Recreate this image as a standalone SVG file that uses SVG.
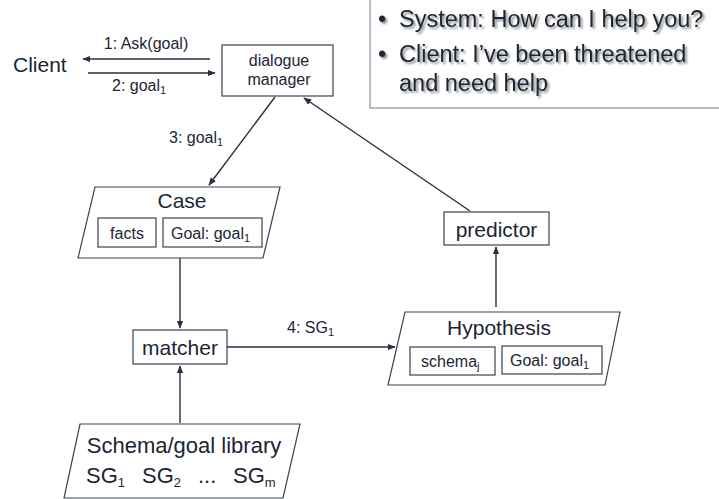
<svg xmlns="http://www.w3.org/2000/svg" width="719" height="499" viewBox="0 0 719 499">
<defs>
<marker id="ah" viewBox="0 0 10 10" refX="9" refY="5" markerWidth="8" markerHeight="8" orient="auto" markerUnits="userSpaceOnUse"><path d="M0,1 L10,5 L0,9 z" fill="#253040"/></marker>
<filter id="sh" x="-5%" y="-20%" width="110%" height="140%"><feGaussianBlur in="SourceAlpha" stdDeviation="1.2"/><feOffset dx="1.5" dy="1.5"/><feComponentTransfer><feFuncA type="linear" slope="0.45"/></feComponentTransfer><feMerge><feMergeNode/><feMergeNode in="SourceGraphic"/></feMerge></filter>
</defs>
<style>
text{font-family:"Liberation Sans",Arial,sans-serif;fill:#1c2533}
.box{fill:#fff;stroke:#3a4250;stroke-width:1.2}
.ln{stroke:#253040;stroke-width:1.4;fill:none;marker-end:url(#ah)}
.sm{font-size:16px}
.lg{font-size:21px}
.lib{font-size:22px}
.big{font-size:23.5px}
.sub{font-size:11px}
.sub2{font-size:13px}
</style>
<rect width="719" height="499" fill="#fff"/>
<g id="note">
<rect x="370" y="-2" width="352" height="110" fill="#fff" stroke="#8a929c" stroke-width="1.2"/>
<g filter="url(#sh)">
<text x="378" y="27" class="big">•</text><text x="399" y="27" class="big">System: How can I help you?</text>
<text x="378" y="62" class="big">•</text><text x="399" y="62" class="big">Client: I’ve been threatened</text>
<text x="399" y="91" class="big">and need help</text>
</g>
</g>
<g id="client"><text x="13" y="72" class="lg">Client</text></g>
<g id="dialogue-manager">
<rect x="222" y="45" width="111" height="51" class="box"/>
<text x="279" y="66" text-anchor="middle" class="sm">dialogue</text>
<text x="279" y="85" text-anchor="middle" class="sm">manager</text>
</g>
<g id="case">
<polygon points="95,187 280,187 263,258 78,258" class="box"/>
<text x="182" y="208" text-anchor="middle" class="lg">Case</text>
<rect x="98" y="218" width="58" height="29" class="box"/>
<text x="127" y="239" text-anchor="middle" class="sm">facts</text>
<rect x="163" y="218" width="99" height="29" class="box"/>
<text x="171" y="239" class="sm">Goal: goal<tspan class="sub" dy="3">1</tspan></text>
</g>
<g id="matcher">
<rect x="133" y="330" width="94" height="34" class="box"/>
<text x="180" y="355" text-anchor="middle" class="lg">matcher</text>
</g>
<g id="hypothesis">
<polygon points="405,312 620,312 605,385 388,385" class="box"/>
<text x="499" y="335" text-anchor="middle" class="lg">Hypothesis</text>
<rect x="410" y="347" width="85" height="28" class="box"/>
<text x="421" y="367" class="sm">schema<tspan class="sub" dy="3">j</tspan></text>
<rect x="502" y="346" width="100" height="28" class="box"/>
<text x="510" y="366" class="sm">Goal: goal<tspan class="sub" dy="3">1</tspan></text>
</g>
<g id="predictor">
<rect x="444" y="212" width="105" height="33" class="box"/>
<text x="496.5" y="237" text-anchor="middle" class="lg">predictor</text>
</g>
<g id="library">
<polygon points="80,424 300,424 283,498 64,498" class="box"/>
<text x="184" y="453" text-anchor="middle" class="lib">Schema/goal library</text>
<text x="86" y="483" class="lib">SG<tspan class="sub2" dy="4">1</tspan></text>
<text x="142" y="483" class="lib">SG<tspan class="sub2" dy="4">2</tspan></text>
<text x="198" y="483" class="lib">...</text>
<text x="233" y="483" class="lib">SG<tspan class="sub2" dy="4">m</tspan></text>
</g>
<g id="connectors">
<line x1="210" y1="59" x2="83" y2="59" class="ln"/>
<text x="146" y="49" text-anchor="middle" class="sm">1: Ask(goal)</text>
<line x1="88" y1="73" x2="215" y2="73" class="ln"/>
<text x="112" y="91" class="sm">2: goal<tspan class="sub" dy="3">1</tspan></text>
<line x1="275" y1="97" x2="209" y2="185" class="ln"/>
<text x="169" y="143" class="sm">3: goal<tspan class="sub" dy="3">1</tspan></text>
<line x1="180" y1="258" x2="180" y2="328" class="ln"/>
<line x1="180" y1="423" x2="180" y2="366" class="ln"/>
<line x1="227" y1="347" x2="395" y2="347" class="ln"/>
<text x="287" y="333" class="sm">4: SG<tspan class="sub" dy="3">1</tspan></text>
<line x1="496" y1="307" x2="496" y2="247" class="ln"/>
<line x1="470" y1="211" x2="304" y2="98" class="ln"/>
</g>
</svg>
